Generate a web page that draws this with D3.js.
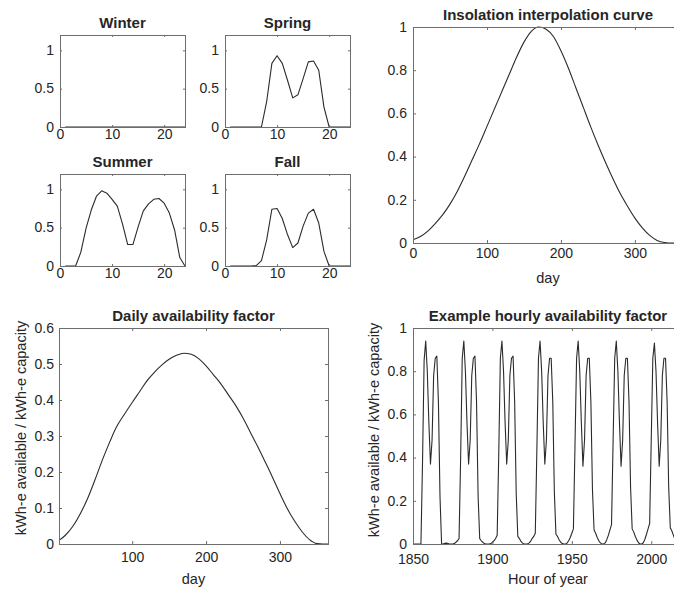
<!DOCTYPE html>
<html>
<head>
<meta charset="utf-8">
<script src="https://cdn.jsdelivr.net/npm/d3@7/dist/d3.min.js"></script>
<style>
  body { margin: 0; background: #ffffff; }
  svg { display: block; }
  text { font-family: "Liberation Sans", Arial, Helvetica, sans-serif; fill: #262626; }
</style>
</head>
<body>
<svg id="chart" width="674" height="590"></svg>
<script>
// ---------------- DATA ----------------
const seasonHours = [1,2,3,4,5,6,7,8,9,10,11,12,13,14,15,16,17,18,19,20,21,22,23,24];
const winterValues = [0,0,0,0,0,0,0,0,0,0,0,0,0,0,0,0,0,0,0,0,0,0,0,0];
const springValues = [0,0,0,0,0,0,0,0.33,0.83,0.93,0.83,0.61,0.38,0.42,0.63,0.85,0.86,0.74,0.26,0,0,0,0,0];
const summerValues = [0,0,0,0.18,0.49,0.73,0.91,0.98,0.95,0.87,0.78,0.55,0.28,0.28,0.51,0.72,0.81,0.87,0.88,0.82,0.69,0.47,0.11,0];
const fallValues   = [0,0,0,0,0,0.005,0.07,0.34,0.74,0.75,0.62,0.41,0.24,0.30,0.52,0.69,0.74,0.56,0.19,0,0,0,0,0];

const insolationDays   = [0,10,20,30,40,50,60,70,80,90,100,110,120,130,140,150,160,170,180,190,200,210,220,230,240,250,260,270,280,290,300,310,320,330,340,345,355,365];
const insolationValues = [0.015,0.03,0.055,0.09,0.13,0.18,0.24,0.31,0.385,0.46,0.54,0.62,0.70,0.78,0.86,0.93,0.98,1.0,0.99,0.955,0.89,0.81,0.72,0.63,0.54,0.455,0.375,0.30,0.23,0.17,0.115,0.07,0.035,0.012,0.002,0,0,0];

const dailyDays   = [1,10,20,30,40,50,60,70,78,90,100,110,120,130,140,150,160,170,180,190,200,210,220,230,240,250,260,270,280,290,300,310,320,330,340,350,358,365];
const dailyValues = [0.01,0.025,0.05,0.085,0.128,0.18,0.235,0.285,0.322,0.362,0.393,0.423,0.453,0.477,0.497,0.513,0.524,0.53,0.527,0.515,0.495,0.47,0.445,0.415,0.385,0.35,0.31,0.27,0.228,0.185,0.14,0.098,0.063,0.034,0.012,0.001,0,0];

const hourlyStart = 1850;
const hourlyValues = [
  // 1850-1871
  0,0,0,0,0,0,0.38,0.85,0.94,0.80,0.56,0.37,0.48,0.78,0.86,0.87,0.66,0.22,0,0,0.003,0.004,
  // 1872-1895
  0.002,0,0,0,0.002,0.008,0.015,0.025,0.40,0.86,0.94,0.80,0.56,0.37,0.48,0.78,0.86,0.87,0.66,0.22,0.025,0.015,0.007,0.002,
  // 1896-1919
  0,0,0,0.002,0.008,0.015,0.025,0.04,0.42,0.86,0.94,0.80,0.56,0.37,0.48,0.78,0.86,0.87,0.66,0.23,0.035,0.025,0.012,0.004,
  // 1920-1943
  0,0,0,0.004,0.012,0.025,0.035,0.05,0.44,0.86,0.94,0.80,0.56,0.37,0.48,0.78,0.86,0.86,0.66,0.24,0.045,0.035,0.02,0.008,
  // 1944-1967
  0.002,0,0,0.004,0.015,0.03,0.05,0.07,0.46,0.86,0.94,0.80,0.56,0.36,0.48,0.78,0.86,0.86,0.66,0.25,0.065,0.05,0.03,0.015,
  // 1968-1991
  0.005,0,0,0.005,0.02,0.04,0.065,0.09,0.48,0.86,0.94,0.80,0.56,0.36,0.48,0.78,0.86,0.86,0.66,0.26,0.07,0.055,0.035,0.018,
  // 1992-2015
  0.006,0,0,0.006,0.022,0.045,0.07,0.095,0.48,0.86,0.93,0.80,0.56,0.36,0.48,0.78,0.86,0.86,0.66,0.26,0.075,0.06,0.04,0.02,
  // 2016-2018
  0.006,0,0
];
const hourlyHours = d3.range(hourlyStart, hourlyStart + hourlyValues.length);

const smallXTicks  = [0,10,20];
const smallYTicks  = [0,0.5,1];
const insolXTicks  = [0,100,200,300];
const insolYTicks  = [0,0.2,0.4,0.6,0.8,1];
const dailyXTicks  = [100,200,300];
const dailyYTicks  = [0,0.1,0.2,0.3,0.4,0.5,0.6];
const hourlyXTicks = [1850,1900,1950,2000];
const hourlyYTicks = [0,0.2,0.4,0.6,0.8,1];

// ---------------- DRAWING ----------------
const svg = d3.select("#chart");
const FONT = '"Liberation Sans", Arial, Helvetica, sans-serif';
const BOX = "#6e6e6e";
const INK = "#262626";
const TICK_FS = 14, TITLE_FS = 15, LABEL_FS = 14.5;
let clipCount = 0;

function panel(c) {
  const g = svg.append("g");
  const x = d3.scaleLinear().domain(c.xDomain).range([c.left, c.right]);
  const y = d3.scaleLinear().domain(c.yDomain).range([c.bottom, c.top]);
  const id = "clip" + (clipCount++);
  svg.append("clipPath").attr("id", id).append("rect")
    .attr("x", c.left).attr("y", c.top - 1)
    .attr("width", c.right - c.left).attr("height", c.bottom - c.top + 2);

  const line = d3.line()
    .x((d, i) => x(c.xs[i]))
    .y(d => y(d))
    .curve(c.curve || d3.curveLinear);
  g.append("path").datum(c.ys)
    .attr("clip-path", `url(#${id})`)
    .attr("fill", "none").attr("stroke", "#2b2b2b")
    .attr("stroke-width", 1.1).attr("stroke-linejoin", "round")
    .attr("d", line);

  const fmt = d => String(d);
  const tl = c.tickLen;
  function styleAxis(a) {
    a.select(".domain").remove();
    a.attr("font-family", FONT).attr("font-size", TICK_FS);
    a.selectAll(".tick line").attr("stroke", BOX).attr("stroke-width", 1);
    a.selectAll(".tick text").attr("fill", INK);
  }
  g.append("g").attr("transform", `translate(0,${c.bottom})`)
    .call(d3.axisBottom(x).tickValues(c.xTicks).tickFormat(fmt).tickSizeInner(-tl).tickSizeOuter(0).tickPadding(c.xPad))
    .call(styleAxis);
  g.append("g").attr("transform", `translate(0,${c.top})`)
    .call(d3.axisTop(x).tickValues(c.xTicks).tickFormat(() => "").tickSizeInner(-tl).tickSizeOuter(0))
    .call(styleAxis);
  g.append("g").attr("transform", `translate(${c.left},0)`)
    .call(d3.axisLeft(y).tickValues(c.yTicks).tickFormat(fmt).tickSizeInner(-tl).tickSizeOuter(0).tickPadding(c.yPad))
    .call(styleAxis)
    .call(a => a.selectAll(".tick text").attr("dy", "0.3em"));
  g.append("g").attr("transform", `translate(${c.right},0)`)
    .call(d3.axisRight(y).tickValues(c.yTicks).tickFormat(() => "").tickSizeInner(-tl).tickSizeOuter(0))
    .call(styleAxis);

  // box
  g.append("rect")
    .attr("x", Math.round(c.left) + 0.5).attr("y", Math.round(c.top) + 0.5)
    .attr("width", Math.round(c.right) - Math.round(c.left))
    .attr("height", Math.round(c.bottom) - Math.round(c.top))
    .attr("fill", "none").attr("stroke", BOX).attr("stroke-width", 1);

  // title
  g.append("text")
    .attr("x", (c.left + c.right) / 2).attr("y", c.top - 7)
    .attr("text-anchor", "middle").attr("font-weight", "bold")
    .attr("font-size", TITLE_FS).text(c.title);

  if (c.xLabel) {
    g.append("text")
      .attr("x", (c.left + c.right) / 2).attr("y", c.bottom + 39.5)
      .attr("text-anchor", "middle").attr("font-size", LABEL_FS).text(c.xLabel);
  }
  if (c.yLabel) {
    g.append("text")
      .attr("transform", `translate(${c.yLabelX},${c.yLabelY}) rotate(-90)`)
      .attr("text-anchor", "middle").attr("font-size", LABEL_FS).text(c.yLabel);
  }
}

const small = { xDomain: [0, 24], yDomain: [0, 1.2], xTicks: smallXTicks, yTicks: smallYTicks, tickLen: 2, xPad: 2, yPad: 6, xs: seasonHours };
panel(Object.assign({}, small, { left: 60, right: 185, top: 35, bottom: 127, ys: winterValues, title: "Winter" }));
panel(Object.assign({}, small, { left: 225, right: 350, top: 35, bottom: 127, ys: springValues, title: "Spring" }));
panel(Object.assign({}, small, { left: 60, right: 185, top: 174, bottom: 266, ys: summerValues, title: "Summer" }));
panel(Object.assign({}, small, { left: 225, right: 350, top: 174, bottom: 266, ys: fallValues, title: "Fall" }));

panel({ left: 413, right: 683, top: 27, bottom: 243, xDomain: [0, 365], yDomain: [0, 1],
  xTicks: insolXTicks, yTicks: insolYTicks, tickLen: 3, xPad: 5, yPad: 6,
  xs: insolationDays, ys: insolationValues, curve: d3.curveMonotoneX,
  title: "Insolation interpolation curve", xLabel: "day" });

panel({ left: 59, right: 328, top: 328, bottom: 544, xDomain: [1, 365], yDomain: [0, 0.6],
  xTicks: dailyXTicks, yTicks: dailyYTicks, tickLen: 3, xPad: 8, yPad: 5,
  xs: dailyDays, ys: dailyValues, curve: d3.curveMonotoneX,
  title: "Daily availability factor", xLabel: "day",
  yLabel: "kWh-e available / kWh-e capacity", yLabelX: 25.5, yLabelY: 428 });

panel({ left: 413, right: 683, top: 328, bottom: 544, xDomain: [1850, 2020], yDomain: [0, 1],
  xTicks: hourlyXTicks, yTicks: hourlyYTicks, tickLen: 3, xPad: 10, yPad: 6,
  xs: hourlyHours, ys: hourlyValues,
  title: "Example hourly availability factor", xLabel: "Hour of year",
  yLabel: "kWh-e available / kWh-e capacity", yLabelX: 378.5, yLabelY: 430 });
</script>
</body>
</html>
